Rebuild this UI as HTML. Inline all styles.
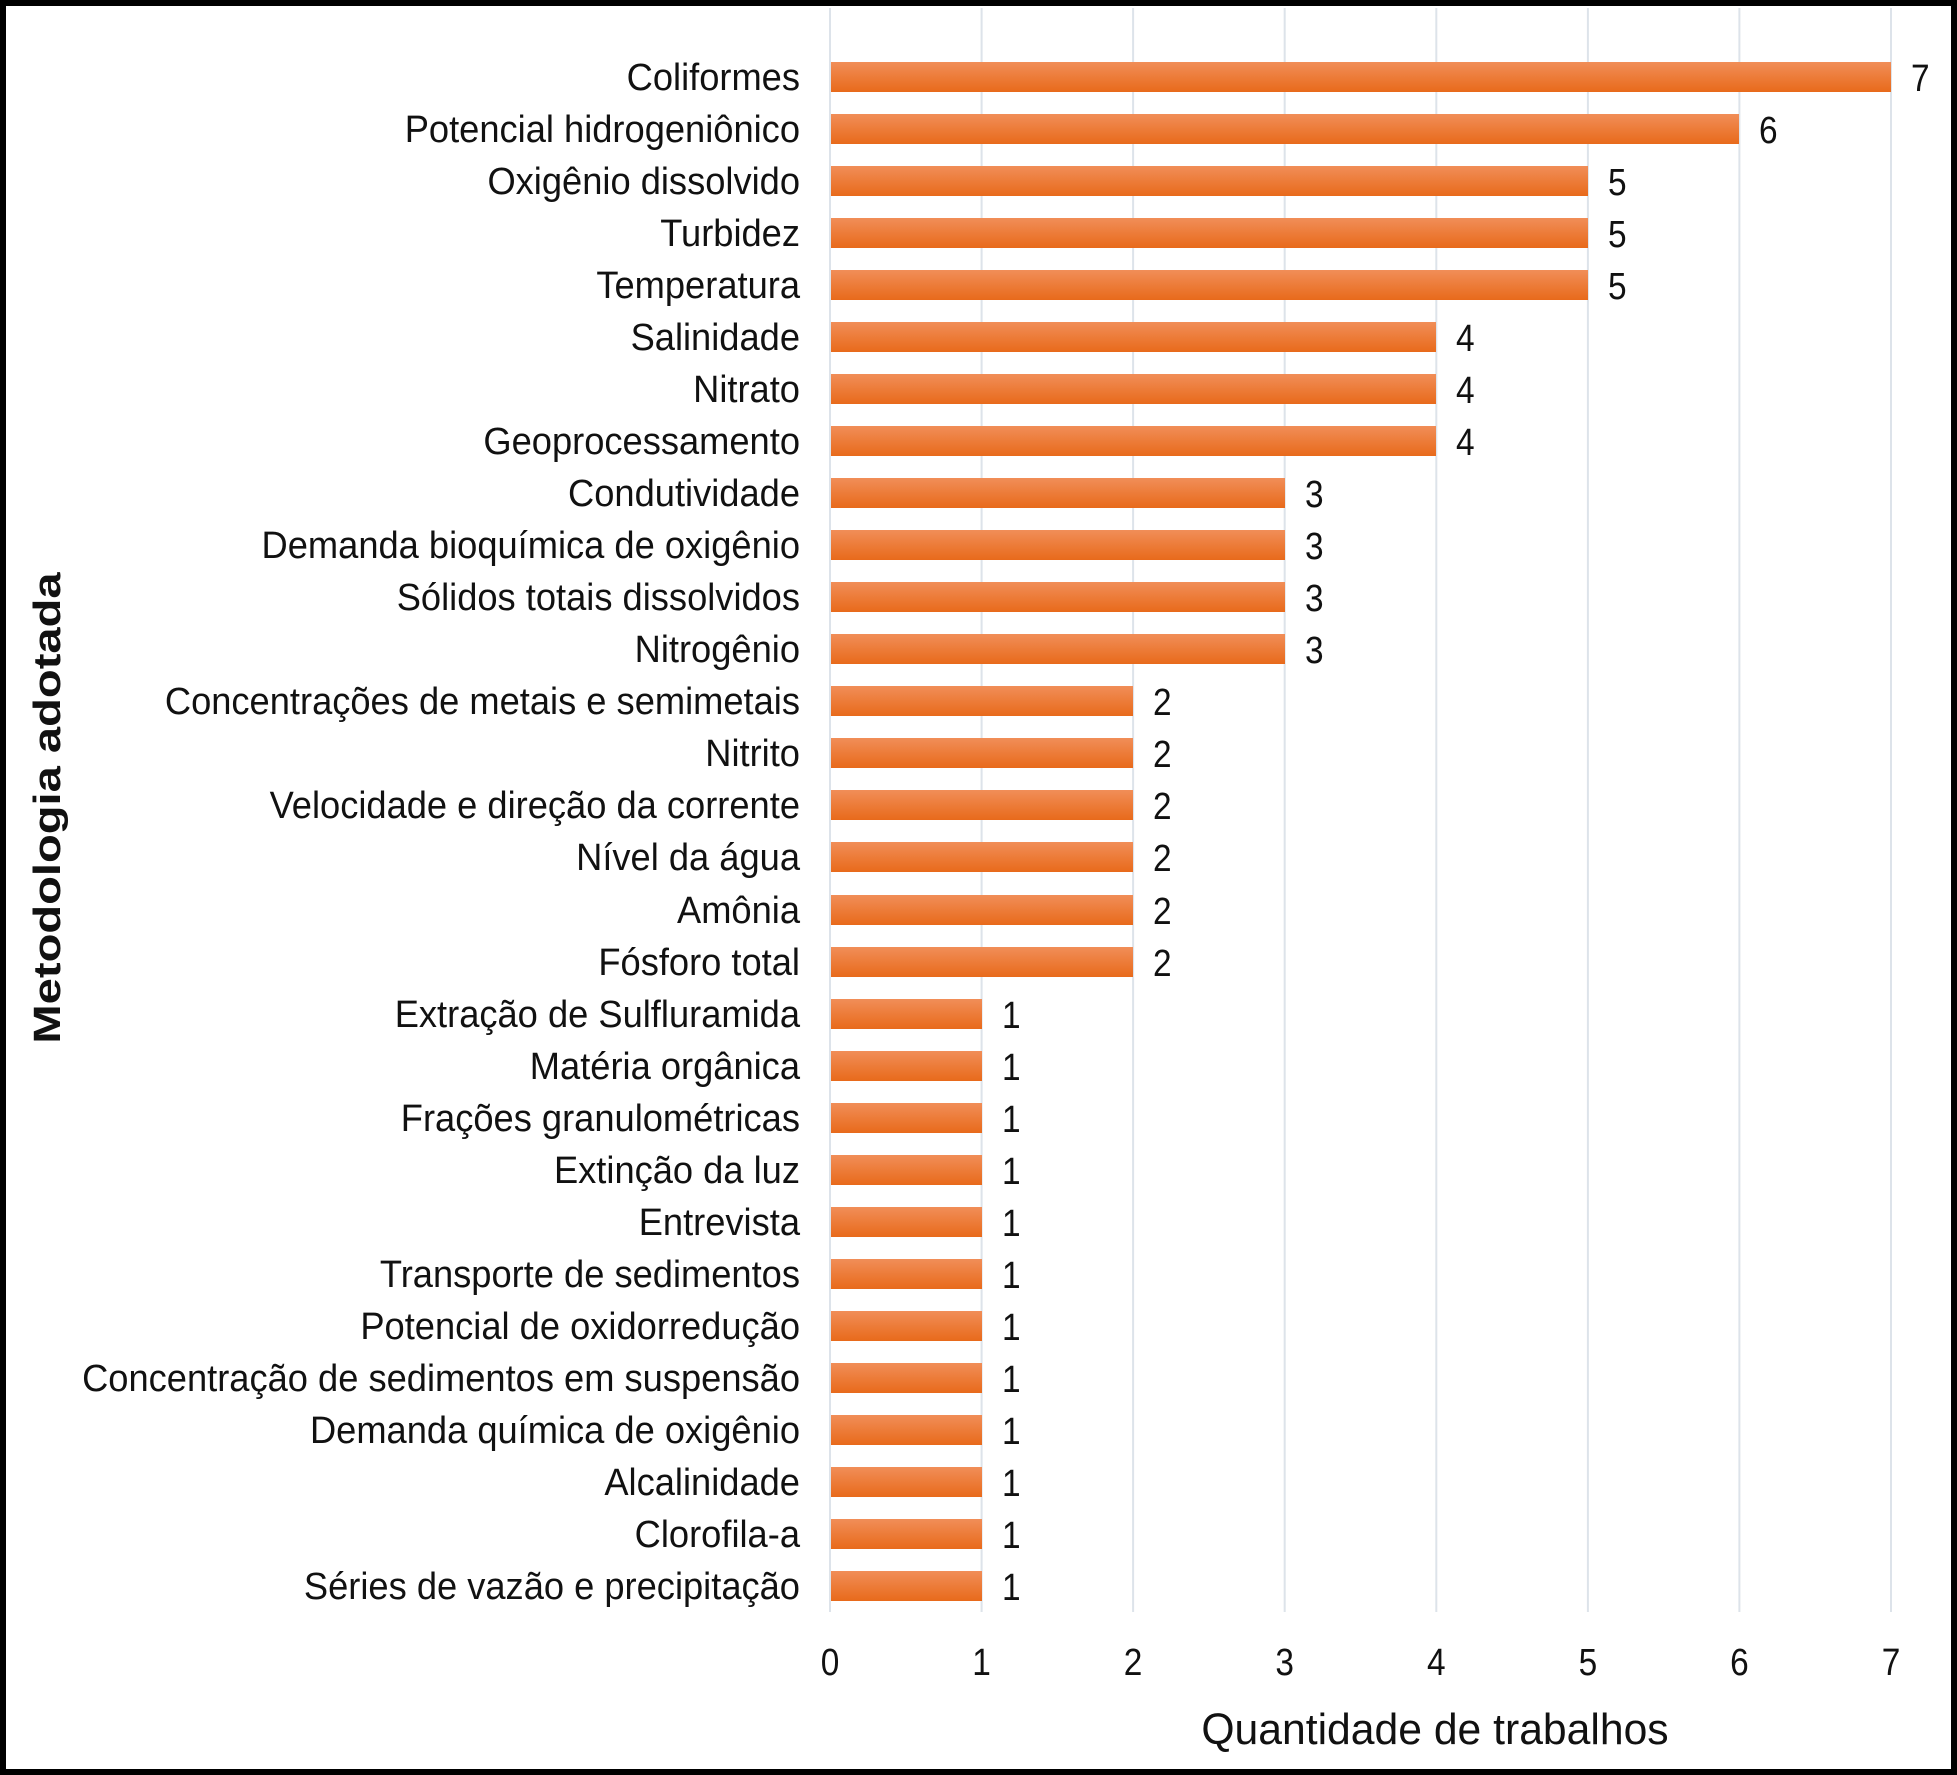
<!DOCTYPE html>
<html><head><meta charset="utf-8"><style>
html,body{margin:0;padding:0;background:#fff}
svg{display:block}
</style></head><body>
<svg width="1957" height="1775" viewBox="0 0 1957 1775" xmlns="http://www.w3.org/2000/svg" font-family="Liberation Sans, Arial, sans-serif">
<defs><linearGradient id="g" x1="0" y1="0" x2="0" y2="1"><stop offset="0" stop-color="#f18e58"/><stop offset="1" stop-color="#e86a1b"/></linearGradient></defs>
<rect x="0" y="0" width="1957" height="1775" fill="#fff"/>
<g stroke="#dde3ea" stroke-width="2">
<line x1="830" y1="8" x2="830" y2="1612"/><line x1="981.6" y1="8" x2="981.6" y2="1612"/><line x1="1133.1" y1="8" x2="1133.1" y2="1612"/><line x1="1284.7" y1="8" x2="1284.7" y2="1612"/><line x1="1436.3" y1="8" x2="1436.3" y2="1612"/><line x1="1587.9" y1="8" x2="1587.9" y2="1612"/><line x1="1739.4" y1="8" x2="1739.4" y2="1612"/><line x1="1891" y1="8" x2="1891" y2="1612"/>
</g>
<g fill="url(#g)">
<rect x="831" y="62" width="1060" height="30"/>
<rect x="831" y="114" width="908" height="30"/>
<rect x="831" y="166" width="757" height="30"/>
<rect x="831" y="218" width="757" height="30"/>
<rect x="831" y="270" width="757" height="30"/>
<rect x="831" y="322" width="605" height="30"/>
<rect x="831" y="374" width="605" height="30"/>
<rect x="831" y="426" width="605" height="30"/>
<rect x="831" y="478" width="454" height="30"/>
<rect x="831" y="530" width="454" height="30"/>
<rect x="831" y="582" width="454" height="30"/>
<rect x="831" y="634" width="454" height="30"/>
<rect x="831" y="686" width="302" height="30"/>
<rect x="831" y="738" width="302" height="30"/>
<rect x="831" y="790" width="302" height="30"/>
<rect x="831" y="842" width="302" height="30"/>
<rect x="831" y="895" width="302" height="30"/>
<rect x="831" y="947" width="302" height="30"/>
<rect x="831" y="999" width="151" height="30"/>
<rect x="831" y="1051" width="151" height="30"/>
<rect x="831" y="1103" width="151" height="30"/>
<rect x="831" y="1155" width="151" height="30"/>
<rect x="831" y="1207" width="151" height="30"/>
<rect x="831" y="1259" width="151" height="30"/>
<rect x="831" y="1311" width="151" height="30"/>
<rect x="831" y="1363" width="151" height="30"/>
<rect x="831" y="1415" width="151" height="30"/>
<rect x="831" y="1467" width="151" height="30"/>
<rect x="831" y="1519" width="151" height="30"/>
<rect x="831" y="1571" width="151" height="30"/>
</g>
<g font-size="38" fill="#111" text-anchor="end">
<text transform="translate(800,90) scale(0.955,1)">Coliformes</text>
<text transform="translate(800,142) scale(0.955,1)">Potencial hidrogeniônico</text>
<text transform="translate(800,194) scale(0.955,1)">Oxigênio dissolvido</text>
<text transform="translate(800,246) scale(0.955,1)">Turbidez</text>
<text transform="translate(800,298) scale(0.955,1)">Temperatura</text>
<text transform="translate(800,350) scale(0.955,1)">Salinidade</text>
<text transform="translate(800,402) scale(0.955,1)">Nitrato</text>
<text transform="translate(800,454) scale(0.955,1)">Geoprocessamento</text>
<text transform="translate(800,506) scale(0.955,1)">Condutividade</text>
<text transform="translate(800,558) scale(0.955,1)">Demanda bioquímica de oxigênio</text>
<text transform="translate(800,610) scale(0.955,1)">Sólidos totais dissolvidos</text>
<text transform="translate(800,662) scale(0.955,1)">Nitrogênio</text>
<text transform="translate(800,714) scale(0.955,1)">Concentrações de metais e semimetais</text>
<text transform="translate(800,766) scale(0.955,1)">Nitrito</text>
<text transform="translate(800,818) scale(0.955,1)">Velocidade e direção da corrente</text>
<text transform="translate(800,870) scale(0.955,1)">Nível da água</text>
<text transform="translate(800,923) scale(0.955,1)">Amônia</text>
<text transform="translate(800,975) scale(0.955,1)">Fósforo total</text>
<text transform="translate(800,1027) scale(0.955,1)">Extração de Sulfluramida</text>
<text transform="translate(800,1079) scale(0.955,1)">Matéria orgânica</text>
<text transform="translate(800,1131) scale(0.955,1)">Frações granulométricas</text>
<text transform="translate(800,1183) scale(0.955,1)">Extinção da luz</text>
<text transform="translate(800,1235) scale(0.955,1)">Entrevista</text>
<text transform="translate(800,1287) scale(0.955,1)">Transporte de sedimentos</text>
<text transform="translate(800,1339) scale(0.955,1)">Potencial de oxidorredução</text>
<text transform="translate(800,1391) scale(0.955,1)">Concentração de sedimentos em suspensão</text>
<text transform="translate(800,1443) scale(0.955,1)">Demanda química de oxigênio</text>
<text transform="translate(800,1495) scale(0.955,1)">Alcalinidade</text>
<text transform="translate(800,1547) scale(0.955,1)">Clorofila-a</text>
<text transform="translate(800,1599) scale(0.955,1)">Séries de vazão e precipitação</text>
</g>
<g font-size="38" fill="#111">
<text transform="translate(1911,91) scale(0.88,1)">7</text>
<text transform="translate(1759,143) scale(0.88,1)">6</text>
<text transform="translate(1608,195) scale(0.88,1)">5</text>
<text transform="translate(1608,247) scale(0.88,1)">5</text>
<text transform="translate(1608,299) scale(0.88,1)">5</text>
<text transform="translate(1456,351) scale(0.88,1)">4</text>
<text transform="translate(1456,403) scale(0.88,1)">4</text>
<text transform="translate(1456,455) scale(0.88,1)">4</text>
<text transform="translate(1305,507) scale(0.88,1)">3</text>
<text transform="translate(1305,559) scale(0.88,1)">3</text>
<text transform="translate(1305,611) scale(0.88,1)">3</text>
<text transform="translate(1305,663) scale(0.88,1)">3</text>
<text transform="translate(1153,715) scale(0.88,1)">2</text>
<text transform="translate(1153,767) scale(0.88,1)">2</text>
<text transform="translate(1153,819) scale(0.88,1)">2</text>
<text transform="translate(1153,871) scale(0.88,1)">2</text>
<text transform="translate(1153,924) scale(0.88,1)">2</text>
<text transform="translate(1153,976) scale(0.88,1)">2</text>
<text transform="translate(1002,1028) scale(0.88,1)">1</text>
<text transform="translate(1002,1080) scale(0.88,1)">1</text>
<text transform="translate(1002,1132) scale(0.88,1)">1</text>
<text transform="translate(1002,1184) scale(0.88,1)">1</text>
<text transform="translate(1002,1236) scale(0.88,1)">1</text>
<text transform="translate(1002,1288) scale(0.88,1)">1</text>
<text transform="translate(1002,1340) scale(0.88,1)">1</text>
<text transform="translate(1002,1392) scale(0.88,1)">1</text>
<text transform="translate(1002,1444) scale(0.88,1)">1</text>
<text transform="translate(1002,1496) scale(0.88,1)">1</text>
<text transform="translate(1002,1548) scale(0.88,1)">1</text>
<text transform="translate(1002,1600) scale(0.88,1)">1</text>
</g>
<g font-size="38" fill="#111" text-anchor="middle">
<text transform="translate(830,1675) scale(0.88,1)">0</text><text transform="translate(981.6,1675) scale(0.88,1)">1</text><text transform="translate(1133.1,1675) scale(0.88,1)">2</text><text transform="translate(1284.7,1675) scale(0.88,1)">3</text><text transform="translate(1436.3,1675) scale(0.88,1)">4</text><text transform="translate(1587.9,1675) scale(0.88,1)">5</text><text transform="translate(1739.4,1675) scale(0.88,1)">6</text><text transform="translate(1891,1675) scale(0.88,1)">7</text>
</g>
<text transform="translate(1435,1744) scale(0.97,1)" font-size="44" text-anchor="middle" fill="#111">Quantidade de trabalhos</text>
<text transform="translate(60,808) rotate(-90) scale(1.24,1)" font-size="38" font-weight="bold" text-anchor="middle" fill="#111">Metodologia adotada</text>
<rect x="3" y="3" width="1951" height="1769" fill="none" stroke="#000" stroke-width="6"/>
</svg>
</body></html>
